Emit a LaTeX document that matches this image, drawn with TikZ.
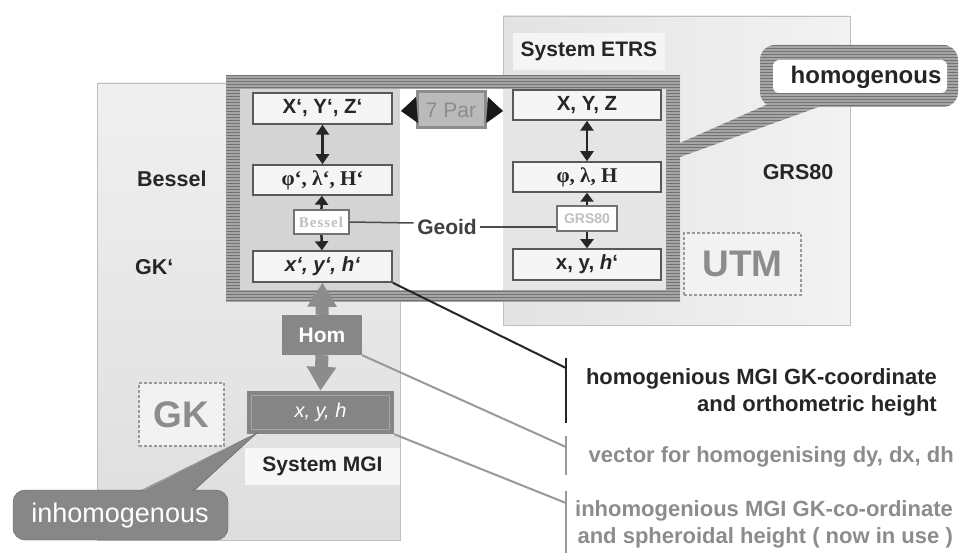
\documentclass[tikz,border=0pt]{standalone}
\usepackage{fontspec}
\setmainfont{Liberation Sans}
\newfontfamily\timesf{Liberation Serif}
\usetikzlibrary{arrows.meta,patterns,positioning}

\tikzset{
  coordbox/.style={draw=black!65, line width=1.5pt, fill=black!4, minimum width=139pt,
    minimum height=31pt, inner sep=0pt, text=black!85, font=\bfseries\fontsize{20.5}{22}\selectfont},
  ellbox/.style={draw=black!55, line width=2pt, fill=white, inner sep=0pt, minimum height=24pt, text=black!25},
  dblarr/.style={{Triangle[length=10pt,width=13pt]}-{Triangle[length=10pt,width=13pt]}, line width=2.5pt, black!85},
  onearr/.style={-{Triangle[length=9pt,width=13pt]}, line width=2.5pt, black!85},
  homarr/.style={-{Triangle[length=24pt,width=28pt]}, line width=13pt, black!45},
  sidelbl/.style={text=black!85, inner sep=0pt, font=\bfseries\fontsize{21.5}{24}\selectfont},
  syslbl/.style={text=black!85, inner sep=0pt, font=\bfseries\fontsize{21}{24}\selectfont},
  dashbox/.style={draw=black!40, line width=1.5pt, dash pattern=on 3pt off 2pt, fill=black!5,
    text=black!45, font=\bfseries\fontsize{37}{40}\selectfont},
  stripes/.style={pattern=horizontal lines, pattern color=black!55},
  note/.style={anchor=east, align=right, inner sep=0pt, font=\bfseries\fontsize{22}{27}\selectfont},
  leader/.style={line width=2pt}
}

\begin{document}
\begin{tikzpicture}[x=1pt,y=-1pt]
\useasboundingbox (0,0) rectangle (960,553);

% system panels
\shade[top color=black!6, bottom color=black!13, draw=black!25] (97,83) rectangle (400,540);
\shade[left color=black!11, right color=black!5, draw=black!25] (503,16) rectangle (850,325);

% striped frame and callout
\fill[black!35] (226,75) rectangle (680,302);
\fill[stripes] (226,75) rectangle (680,302);
\fill[black!17] (240,89) rectangle (400,290);
\fill[white] (400,89) rectangle (503,290);
\fill[black!10] (503,89) rectangle (666,290);
\fill[black!35] (680,143) -- (775,101) -- (835,101) -- (680,157) -- cycle;
\fill[stripes] (680,143) -- (775,101) -- (835,101) -- (680,157) -- cycle;
\fill[black!35, rounded corners=15pt] (760,45) rectangle (958,107);
\fill[stripes, rounded corners=15pt] (760,45) rectangle (958,107);
\fill[white, rounded corners=6pt] (773,60) rectangle (947,93);
\node[text=black!85, font=\bfseries\fontsize{24}{28}\selectfont] (homog) at (866,77) {homogenous};

% labels of the systems
\node[syslbl, fill=black!4, minimum width=152pt, minimum height=37pt] (etrs) at (589,51.5) {System ETRS};
\node[syslbl, fill=black!3, minimum width=155pt, minimum height=37pt] (mgi) at (322.5,466.5) {System MGI};
\node[sidelbl, anchor=west] (bessel) at (137,179) {Bessel};
\node[sidelbl, anchor=west] (gkp) at (135,267) {GK‘};
\node[sidelbl] (grs) at (798,172) {GRS80};
\node[dashbox, minimum width=85pt, minimum height=63pt] (gk) at (181.5,414.5) {GK};
\node[dashbox, minimum width=117pt, minimum height=62pt] (utm) at (742.5,264) {UTM};

% Bessel column
\node[coordbox] (lxyz) at (322.5,108.5) {X‘, Y‘, Z‘};
\node[coordbox, minimum height=30pt, font=\timesf\bfseries\fontsize{21}{22}\selectfont] (lphi) at (322.5,180) {φ‘, λ‘, H‘};
\node[ellbox, minimum width=55pt, font=\timesf\bfseries\fontsize{15}{17}\selectfont] (lbes) at (321,222) {B\kern1pt e\kern1pt s\kern1pt s\kern1pt e\kern1pt l};
\node[coordbox, font=\bfseries\itshape\fontsize{20.5}{22}\selectfont] (lxyh) at (322.5,266.5) {x‘, y‘, h‘};

% GRS80 column
\node[coordbox, minimum width=148pt, minimum height=30pt] (rxyz) at (587,105) {X, Y, Z};
\node[coordbox, minimum width=148pt, minimum height=30pt, font=\timesf\bfseries\fontsize{21}{22}\selectfont] (rphi) at (587,177) {φ, λ, H};
\node[ellbox, minimum width=60pt, minimum height=25pt, font=\bfseries\fontsize{14}{16}\selectfont] (rgrs) at (587,218.5) {GRS80};
\node[coordbox, minimum width=148pt] (rxyh) at (587,264.5) {x, y, \textit{h}‘};

\draw[dblarr] (lxyz) -- (lphi);
\draw[onearr] (lbes) -- (lphi);
\draw[onearr] (lbes) -- (lxyh);
\draw[dblarr] (rxyz) -- (rphi);
\draw[onearr] (rgrs) -- (rphi);
\draw[onearr] (rgrs) -- (rxyh);

% 7 parameter transformation
\node[fill=black!27, draw=black!45, line width=3pt, minimum width=68pt, minimum height=36pt, inner sep=0pt,
  text=black!45, font=\fontsize{21}{24}\selectfont] (par) at (451,110) {7 Par};
\coordinate (parl) at (401,111);
\coordinate (parr) at (503,111);
\draw[-{Triangle[length=16pt,width=26pt]}, black!90] (par.west) -- (parl);
\draw[-{Triangle[length=16pt,width=26pt]}, black!90] (par.east) -- (parr);

% geoid
\node[text=black!75, font=\bfseries\fontsize{21}{24}\selectfont] (geoid) at (447,227) {Geoid};
\draw[line width=1.5pt, black!70] (lbes.east) -- ([yshift=4pt]geoid.west);
\draw[line width=1.5pt, black!70] (geoid.east) -- (rgrs.west |- geoid.east);

% MGI coordinates
\node[fill=black!47, minimum width=80pt, minimum height=40pt, inner sep=0pt, text=white,
  font=\bfseries\fontsize{21}{24}\selectfont] (hom) at (322,335) {Hom};
\node[fill=black!48, minimum width=147pt, minimum height=43pt, inner sep=0pt, text=white,
  font=\itshape\fontsize{20}{24}\selectfont] (xyh) at (320.5,412.5) {x, y, h};
\draw[black!35, line width=1pt] ([shift={(5,5)}]xyh.north west) rectangle ([shift={(-5,-5)}]xyh.south east);
\draw[homarr] (hom.north) -- (lxyh.south);
\draw[homarr] (hom.south) -- (xyh.north);

% inhomogenous callout
\fill[black!47, draw=black!60, rounded corners=12pt] (13,490) rectangle (228,540);
\coordinate (tip) at (257,433);
\fill[black!47] (140,492) -- (tip) -- (193,492) -- cycle;
\draw[black!60] (140,491) -- (tip) -- (193,491);
\node[text=white, font=\fontsize{27}{30}\selectfont] (inhom) at (120,516) {inhomogenous};

% notes
\coordinate (b1) at (566,368);
\coordinate (b1t) at (566,358);
\coordinate (b1b) at (566,423);
\coordinate (b2) at (566,447);
\coordinate (b2t) at (566,436);
\coordinate (b2b) at (566,475);
\coordinate (b3) at (566,503);
\coordinate (b3t) at (566,491);
\coordinate (b3b) at (566,553);
\draw[leader, black!85] (lxyh.south east) -- (b1);
\draw[leader, black!85] (b1t) -- (b1b);
\draw[leader, black!40] (hom.south east) -- (b2);
\draw[leader, black!40] (b2t) -- (b2b);
\draw[leader, black!40] (xyh.south east) -- (b3);
\draw[leader, black!40] (b3t) -- (b3b);
\node[note, text=black!85] (note1) at (937,392.5) {homogenious MGI GK-coordinate\\and orthometric height};
\node[note, text=black!45] (note2) at (954,457) {vector for homogenising dy, dx, dh};
\node[note, text=black!45] (note3) at (953,524.5) {inhomogenious MGI GK-co-ordinate\\and spheroidal height ( now in use )};
\end{tikzpicture}
\end{document}
